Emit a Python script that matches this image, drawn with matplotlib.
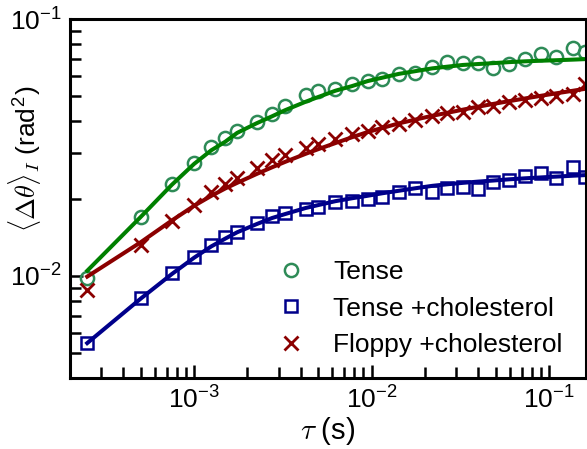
import matplotlib
matplotlib.use("Agg")
import matplotlib.pyplot as plt

plt.rcParams['font.family'] = ['Liberation Sans', 'DejaVu Sans']
plt.rcParams['mathtext.fontset'] = 'cm'

# lag times (s)
tau = [2.5e-4, 5e-4, 7.5e-4, 1e-3, 1.25e-3, 1.5e-3, 1.75e-3, 2.25e-3, 2.75e-3,
       3.25e-3, 4.25e-3, 5e-3, 6.25e-3, 7.75e-3, 9.5e-3, 1.15e-2, 1.425e-2,
       1.75e-2, 2.2e-2, 2.65e-2, 3.275e-2, 3.975e-2, 4.85e-2, 5.95e-2,
       7.325e-2, 9.025e-2, 0.1095, 0.1365, 0.1595]

# measured data
tense = [0.00982, 0.01700, 0.02287, 0.02751, 0.03162, 0.03429, 0.03652, 0.03955,
         0.04276, 0.04603, 0.05046, 0.05247, 0.05362, 0.05608, 0.05752, 0.05856,
         0.06097, 0.06152, 0.06494, 0.06823, 0.06731, 0.06714, 0.06436, 0.06671,
         0.06960, 0.07316, 0.07122, 0.07679, 0.07430]
tense_chol = [0.005489, 0.008181, 0.01021, 0.01186, 0.01323, 0.01411, 0.01476,
              0.01611, 0.01708, 0.01753, 0.01819, 0.01852, 0.01945, 0.01958,
              0.01993, 0.02022, 0.02115, 0.02201, 0.02115, 0.02197, 0.02217,
              0.02187, 0.02314, 0.02356, 0.02447, 0.02521, 0.02397, 0.02641,
              0.02435]
floppy_chol = [0.008792, 0.01321, 0.01632, 0.01885, 0.02115, 0.02281, 0.02407,
               0.02622, 0.02821, 0.02950, 0.03134, 0.03257, 0.03414, 0.03577,
               0.03669, 0.03797, 0.03900, 0.04043, 0.04205, 0.04293, 0.04352,
               0.04544, 0.04593, 0.04740, 0.04840, 0.04928, 0.05026, 0.05093,
               0.05598]

# fitted curves (read at the same lag times)
tense_fit = [0.010460, 0.016940, 0.022627, 0.027266, 0.030815, 0.033292, 0.036030,
             0.039261, 0.041791, 0.044112, 0.047612, 0.049667, 0.052560, 0.054785,
             0.057308, 0.059087, 0.061143, 0.062589, 0.064244, 0.065175, 0.066239,
             0.066778, 0.067320, 0.067928, 0.068419, 0.068789, 0.069098, 0.069473,
             0.069786]
tense_chol_fit = [0.005469, 0.008145, 0.010163, 0.011758, 0.013015, 0.013962,
                  0.014776, 0.015893, 0.016788, 0.017387, 0.018367, 0.018852,
                  0.019524, 0.020040, 0.020496, 0.020962, 0.021438, 0.021906,
                  0.022404, 0.022708, 0.023016, 0.023266, 0.023497, 0.023752,
                  0.023967, 0.024161, 0.024336, 0.024533, 0.024666]
floppy_chol_fit = [0.009928, 0.013505, 0.016427, 0.018734, 0.020477, 0.021886,
                   0.023016, 0.024911, 0.026458, 0.027752, 0.029854, 0.031116,
                   0.032870, 0.034630, 0.036290, 0.037651, 0.039226, 0.040516,
                   0.041997, 0.043066, 0.044366, 0.045539, 0.046700, 0.047866,
                   0.049043, 0.050247, 0.051344, 0.052560, 0.053467]

labels = ["Tense", "Tense +cholesterol", "Floppy +cholesterol"]

fig = plt.figure(figsize=(5.87, 4.49), dpi=100)
ax = fig.add_axes([70/587, 71/449, 516/587, 359/449])

green_line = '#008000'
green_mk = '#2E8B57'
blue = '#00008B'
red = '#8B0000'

ax.plot(tau, tense, linestyle='none', marker='o', ms=9.5, mfc='none',
        mec=green_mk, mew=1.8, label=labels[0])
ax.plot(tau, tense_chol, linestyle='none', marker='s', ms=9, mfc='none',
        mec=blue, mew=1.8, label=labels[1])
ax.plot(tau, floppy_chol, linestyle='none', marker='x', ms=9.5, mec=red,
        mew=2.0, label=labels[2])

ax.plot(tau, tense_fit, color=green_line, lw=2.9)
ax.plot(tau, tense_chol_fit, color=blue, lw=2.9)
ax.plot(tau, floppy_chol_fit, color=red, lw=2.9)

ax.set_xscale('log')
ax.set_yscale('log')
ax.set_xlim(2.0e-4, 0.1615)
ax.set_ylim(4e-3, 0.1)

for s in ax.spines.values():
    s.set_linewidth(2.2)

ax.tick_params(which='both', direction='in', top=False, right=False,
               width=1.8, labelsize=19)
ax.tick_params(which='major', length=9.5, pad=6)
ax.tick_params(which='minor', length=8)

ax.set_xlabel(r'$\tau$ (s)', fontsize=21, labelpad=1)
ax.set_ylabel(r'$\langle\Delta\theta\rangle_I$ (rad$^\mathregular{2}$)',
              fontsize=19)
ax.yaxis.set_label_coords(-0.052, 0.612)

leg = ax.legend(loc='lower right', bbox_to_anchor=(0.975, 0.028), frameon=False,
                fontsize=19, handlelength=1.2, handletextpad=1.0,
                labelspacing=0.48, numpoints=1, borderaxespad=0)

fig.savefig('out.png', dpi=100)
